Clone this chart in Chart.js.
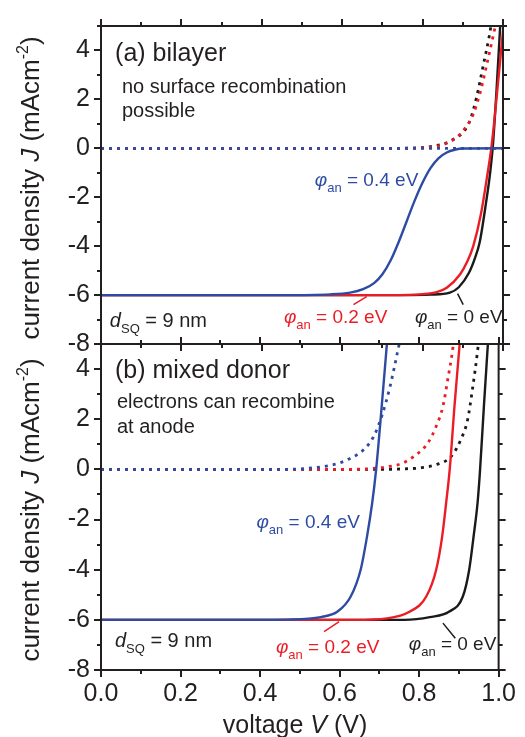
<!DOCTYPE html>
<html>
<head>
<meta charset="utf-8">
<title>J-V curves</title>
<script src="https://cdn.jsdelivr.net/npm/chart.js@4.4.1/dist/chart.umd.min.js"></script>
<style>
  html, body { margin: 0; padding: 0; background: #fff; }
  #wrap { position: relative; width: 525px; height: 737px; }
  #wrap canvas { position: absolute; left: 0; top: 0; }
</style>
</head>
<body>
<div id="wrap">
  <canvas id="bilayerChart" width="525" height="737"></canvas>
  <canvas id="mixedChart" width="525" height="737"></canvas>
</div>
<script>
// [voltage V, current density mA/cm^2]
// (a) bilayer - under illumination, one per anode barrier
const bilayer0 = [[0,-6],[0.75,-6],[0.82,-5.98],[0.868,-5.9],[0.89,-5.68],[0.915,-5.1],[0.93,-4.5],[0.942,-3.84],[0.958,-2.2],[0.968,-1.0],[0.975,0.15],[0.984,2.4],[0.993,5]];
const bilayer2 = [[0,-6],[0.72,-6],[0.8,-5.96],[0.835,-5.88],[0.86,-5.7],[0.893,-5.16],[0.912,-4.6],[0.926,-4.0],[0.945,-2.7],[0.96,-1.2],[0.972,0.15],[0.986,2.4],[1.0,4.8]];
const bilayer4 = [[0,-6],[0.45,-6],[0.57,-5.97],[0.62,-5.9],[0.652,-5.76],[0.68,-5.5],[0.70,-5.15],[0.72,-4.6],[0.74,-3.85],[0.76,-3.0],[0.78,-2.15],[0.80,-1.4],[0.82,-0.8],[0.84,-0.4],[0.86,-0.17],[0.88,-0.06],[0.9,-0.01],[1.0,0]];
// (a) bilayer - dark
const bilayerDark0 = [[0,0],[0.72,0],[0.8,0.03],[0.83,0.1],[0.856,0.2],[0.881,0.41],[0.902,0.68],[0.918,1.14],[0.934,2.07],[0.951,3.4],[0.966,4.6],[0.97,5.0]];
const bilayerDark2 = [[0,0],[0.74,0],[0.81,0.03],[0.835,0.08],[0.86,0.21],[0.885,0.45],[0.905,0.81],[0.925,1.35],[0.943,2.27],[0.963,3.67],[0.981,5.0]];
const bilayerDark4 = [[0,0],[0.5,0],[1.0,0]];

// (b) mixed donor - under illumination
const mixed0 = [[0,-6],[0.65,-6],[0.763,-6.0],[0.827,-5.89],[0.876,-5.67],[0.91,-5.07],[0.926,-4.0],[0.937,-2.68],[0.947,-1.34],[0.953,-0.1],[0.963,2.52],[0.973,5.0]];
const mixed2 = [[0,-6],[0.55,-6],[0.636,-6.0],[0.719,-5.94],[0.777,-5.67],[0.818,-5.07],[0.843,-4.0],[0.858,-2.68],[0.868,-1.34],[0.877,0],[0.889,2.52],[0.902,5.0]];
const mixed4 = [[0,-6],[0.4,-6],[0.47,-5.99],[0.553,-5.89],[0.595,-5.67],[0.628,-5.07],[0.653,-4.0],[0.669,-2.68],[0.682,-1.34],[0.692,0],[0.706,2.52],[0.719,5.0]];
// (b) mixed donor - dark
const mixedDark0 = [[0,0],[0.7,0],[0.76,0.02],[0.802,0.06],[0.843,0.19],[0.881,0.52],[0.905,1.19],[0.922,1.98],[0.934,3.18],[0.947,4.71],[0.949,5.0]];
const mixedDark2 = [[0,0],[0.62,0],[0.677,0.03],[0.719,0.1],[0.76,0.26],[0.793,0.59],[0.822,1.05],[0.843,1.72],[0.86,2.52],[0.872,3.58],[0.885,4.85],[0.886,5.0]];
const mixedDark4 = [[0,0],[0.45,0],[0.51,0.03],[0.553,0.1],[0.595,0.23],[0.628,0.45],[0.661,0.79],[0.686,1.32],[0.706,2.12],[0.727,3.31],[0.748,4.85],[0.75,5.0]];

// axis ticks
const voltTicks = [0, 0.2, 0.4, 0.6, 0.8, 1.0];
const voltMinor = [0.1, 0.3, 0.5, 0.7, 0.9];
const currentTicks = [-8, -6, -4, -2, 0, 2, 4];
const currentMinor = [-7, -5, -3, -1, 1, 3, 5];

const FONT = '"Liberation Sans", Arial, Helvetica, sans-serif';
const INK = '#231f20';
const BLACK = '#1a1a1a';
const RED = '#ec1c24';
const BLUE = '#2e4ba3';

function toXY(points) {
    return points.map(function(p){ return {x: p[0], y: p[1]}; });
}

function curve(points, color, dark, order) {
    return {
        data: toXY(points),
        borderColor: color,
        borderWidth: dark ? 2.8 : 2.4,
        borderDash: dark ? [3, 5] : [],
        borderCapStyle: 'butt',
        pointRadius: 0,
        fill: false,
        cubicInterpolationMode: 'monotone',
        order: order
    };
}

// draws a run of text pieces: [text, font, dy]
function textRun(ctx, parts, x, y) {
    parts.forEach(function(p){
        ctx.font = p[1];
        ctx.fillText(p[0], x, y + (p[2] || 0));
        x += ctx.measureText(p[0]).width;
    });
    return x;
}

function runWidth(ctx, parts) {
    let w = 0;
    parts.forEach(function(p){
        ctx.font = p[1];
        w += ctx.measureText(p[0]).width;
    });
    return w;
}

function phiLabel(ctx, x, y, color, value) {
    ctx.fillStyle = color;
    textRun(ctx, [
        ['\u03c6', 'italic 19px ' + FONT],
        ['an', '13px ' + FONT, 6],
        [' = ' + value + ' eV', '19px ' + FONT]
    ], x, y);
}

function thicknessLabel(ctx, x, y) {
    ctx.fillStyle = INK;
    textRun(ctx, [
        ['d', 'italic 20px ' + FONT],
        ['SQ', '13px ' + FONT, 6],
        [' = 9 nm', '20px ' + FONT]
    ], x, y);
}

function leader(ctx, x1, y1, x2, y2, color) {
    ctx.strokeStyle = color;
    ctx.lineWidth = 1.5;
    ctx.beginPath();
    ctx.moveTo(x1, y1);
    ctx.lineTo(x2, y2);
    ctx.stroke();
}

function yTitle(ctx, area) {
    const parts = [
        ['current density ', '26px ' + FONT],
        ['J', 'italic 26px ' + FONT],
        [' (mAcm', '26px ' + FONT],
        ['-2', '16px ' + FONT, -11],
        [')', '26px ' + FONT]
    ];
    ctx.save();
    ctx.fillStyle = INK;
    ctx.translate(39, (area.top + area.bottom) / 2 + 3);
    ctx.rotate(-Math.PI / 2);
    textRun(ctx, parts, -runWidth(ctx, parts) / 2, 0);
    ctx.restore();
}

// frame with outward major/minor ticks on all four sides, then the notes
function makeFrame(drawNotes) {
    return {
        id: 'frame',
        afterDraw: function(chart) {
            const ctx = chart.ctx, a = chart.chartArea;
            const xs = chart.scales.x, ys = chart.scales.y;
            ctx.save();
            ctx.strokeStyle = INK;
            ctx.lineWidth = 2;
            ctx.strokeRect(a.left, a.top, a.right - a.left, a.bottom - a.top);
            ctx.beginPath();
            voltTicks.concat(voltMinor).forEach(function(v){
                const len = voltTicks.indexOf(v) >= 0 ? 7 : 4;
                const px = Math.round(xs.getPixelForValue(v));
                ctx.moveTo(px, a.top); ctx.lineTo(px, a.top - len);
                ctx.moveTo(px, a.bottom); ctx.lineTo(px, a.bottom + len);
            });
            currentTicks.concat(currentMinor).forEach(function(v){
                const len = currentTicks.indexOf(v) >= 0 ? 7 : 4;
                const py = Math.round(ys.getPixelForValue(v));
                ctx.moveTo(a.left, py); ctx.lineTo(a.left - len, py);
                ctx.moveTo(a.right, py); ctx.lineTo(a.right + len, py);
            });
            ctx.stroke();
            ctx.textBaseline = 'alphabetic';
            ctx.textAlign = 'left';
            yTitle(ctx, a);
            drawNotes(ctx, function(v){ return xs.getPixelForValue(v); }, function(v){ return ys.getPixelForValue(v); });
            ctx.restore();
        }
    };
}

function panelOptions(padTop, xHeight, showX) {
    return {
        responsive: false,
        animation: false,
        devicePixelRatio: 1,
        layout: { padding: { top: padTop, right: 22, left: 0, bottom: 0 } },
        plugins: { legend: { display: false }, tooltip: { enabled: false } },
        scales: {
            x: {
                type: 'linear', min: 0, max: 1,
                grid: { display: false, drawTicks: false },
                border: { display: false },
                afterBuildTicks: function(s){ s.ticks = voltTicks.map(function(v){ return {value: v}; }); },
                afterFit: function(s){ s.height = xHeight; },
                ticks: {
                    display: showX,
                    padding: 9,
                    color: INK,
                    font: { family: FONT, size: 25 },
                    maxRotation: 0,
                    callback: function(v){ return v.toFixed(1); }
                }
            },
            y: {
                type: 'linear', min: -8, max: 5,
                grid: { display: false, drawTicks: false },
                border: { display: false },
                afterBuildTicks: function(s){ s.ticks = currentTicks.map(function(v){ return {value: v}; }); },
                afterFit: function(s){ s.width = 101; },
                ticks: {
                    padding: 11,
                    color: INK,
                    font: { family: FONT, size: 25 },
                    callback: function(v){ return String(v); }
                }
            }
        }
    };
}

// (a) bilayer
new Chart(document.getElementById('bilayerChart'), {
    type: 'line',
    data: {
        datasets: [
            curve(bilayer4, BLUE, false, 0),
            curve(bilayer2, RED, false, 1),
            curve(bilayer0, BLACK, false, 2),
            curve(bilayerDark4, BLUE, true, 3),
            curve(bilayerDark2, RED, true, 4),
            curve(bilayerDark0, BLACK, true, 5)
        ]
    },
    options: panelOptions(18, 393, false),
    plugins: [makeFrame(function(ctx, X, Y){
        ctx.fillStyle = INK;
        ctx.font = '25px ' + FONT;
        ctx.fillText('(a) bilayer', X(0.035), Y(3.57));
        ctx.font = '20px ' + FONT;
        ctx.fillText('no surface recombination', X(0.052), Y(2.26));
        ctx.fillText('possible', X(0.052), Y(1.30));
        phiLabel(ctx, X(0.532), Y(-1.53), BLUE, '0.4');
        thicknessLabel(ctx, X(0.022), Y(-7.30));
        phiLabel(ctx, X(0.455), Y(-7.14), RED, '0.2');
        phiLabel(ctx, X(0.781), Y(-7.14), INK, '0');
        leader(ctx, X(0.628), Y(-6.39), X(0.661), Y(-6.06), RED);
        leader(ctx, X(0.887), Y(-5.94), X(0.901), Y(-6.39), BLACK);
    })]
});

// (b) mixed donor
new Chart(document.getElementById('mixedChart'), {
    type: 'line',
    data: {
        datasets: [
            curve(mixed4, BLUE, false, 0),
            curve(mixed2, RED, false, 1),
            curve(mixed0, BLACK, false, 2),
            curve(mixedDark4, BLUE, true, 3),
            curve(mixedDark2, RED, true, 4),
            curve(mixedDark0, BLACK, true, 5)
        ]
    },
    options: panelOptions(344, 67, true),
    plugins: [makeFrame(function(ctx, X, Y){
        ctx.fillStyle = INK;
        ctx.font = '25px ' + FONT;
        ctx.fillText('(b) mixed donor', X(0.035), Y(3.66));
        ctx.font = '20px ' + FONT;
        ctx.fillText('electrons can recombine', X(0.04), Y(2.46));
        ctx.fillText('at anode', X(0.04), Y(1.47));
        phiLabel(ctx, X(0.391), Y(-2.33), BLUE, '0.4');
        thicknessLabel(ctx, X(0.035), Y(-7.08));
        phiLabel(ctx, X(0.44), Y(-7.32), RED, '0.2');
        phiLabel(ctx, X(0.774), Y(-7.2), INK, '0');
        leader(ctx, X(0.561), Y(-6.47), X(0.599), Y(-6.07), RED);
        leader(ctx, X(0.86), Y(-6.13), X(0.891), Y(-6.73), BLACK);

        // x axis title
        const parts = [
            ['voltage ', '25px ' + FONT],
            ['V', 'italic 25px ' + FONT],
            [' (V)', '25px ' + FONT]
        ];
        ctx.fillStyle = INK;
        textRun(ctx, parts, 295 - runWidth(ctx, parts) / 2, 733);
    })]
});
</script>
</body>
</html>
